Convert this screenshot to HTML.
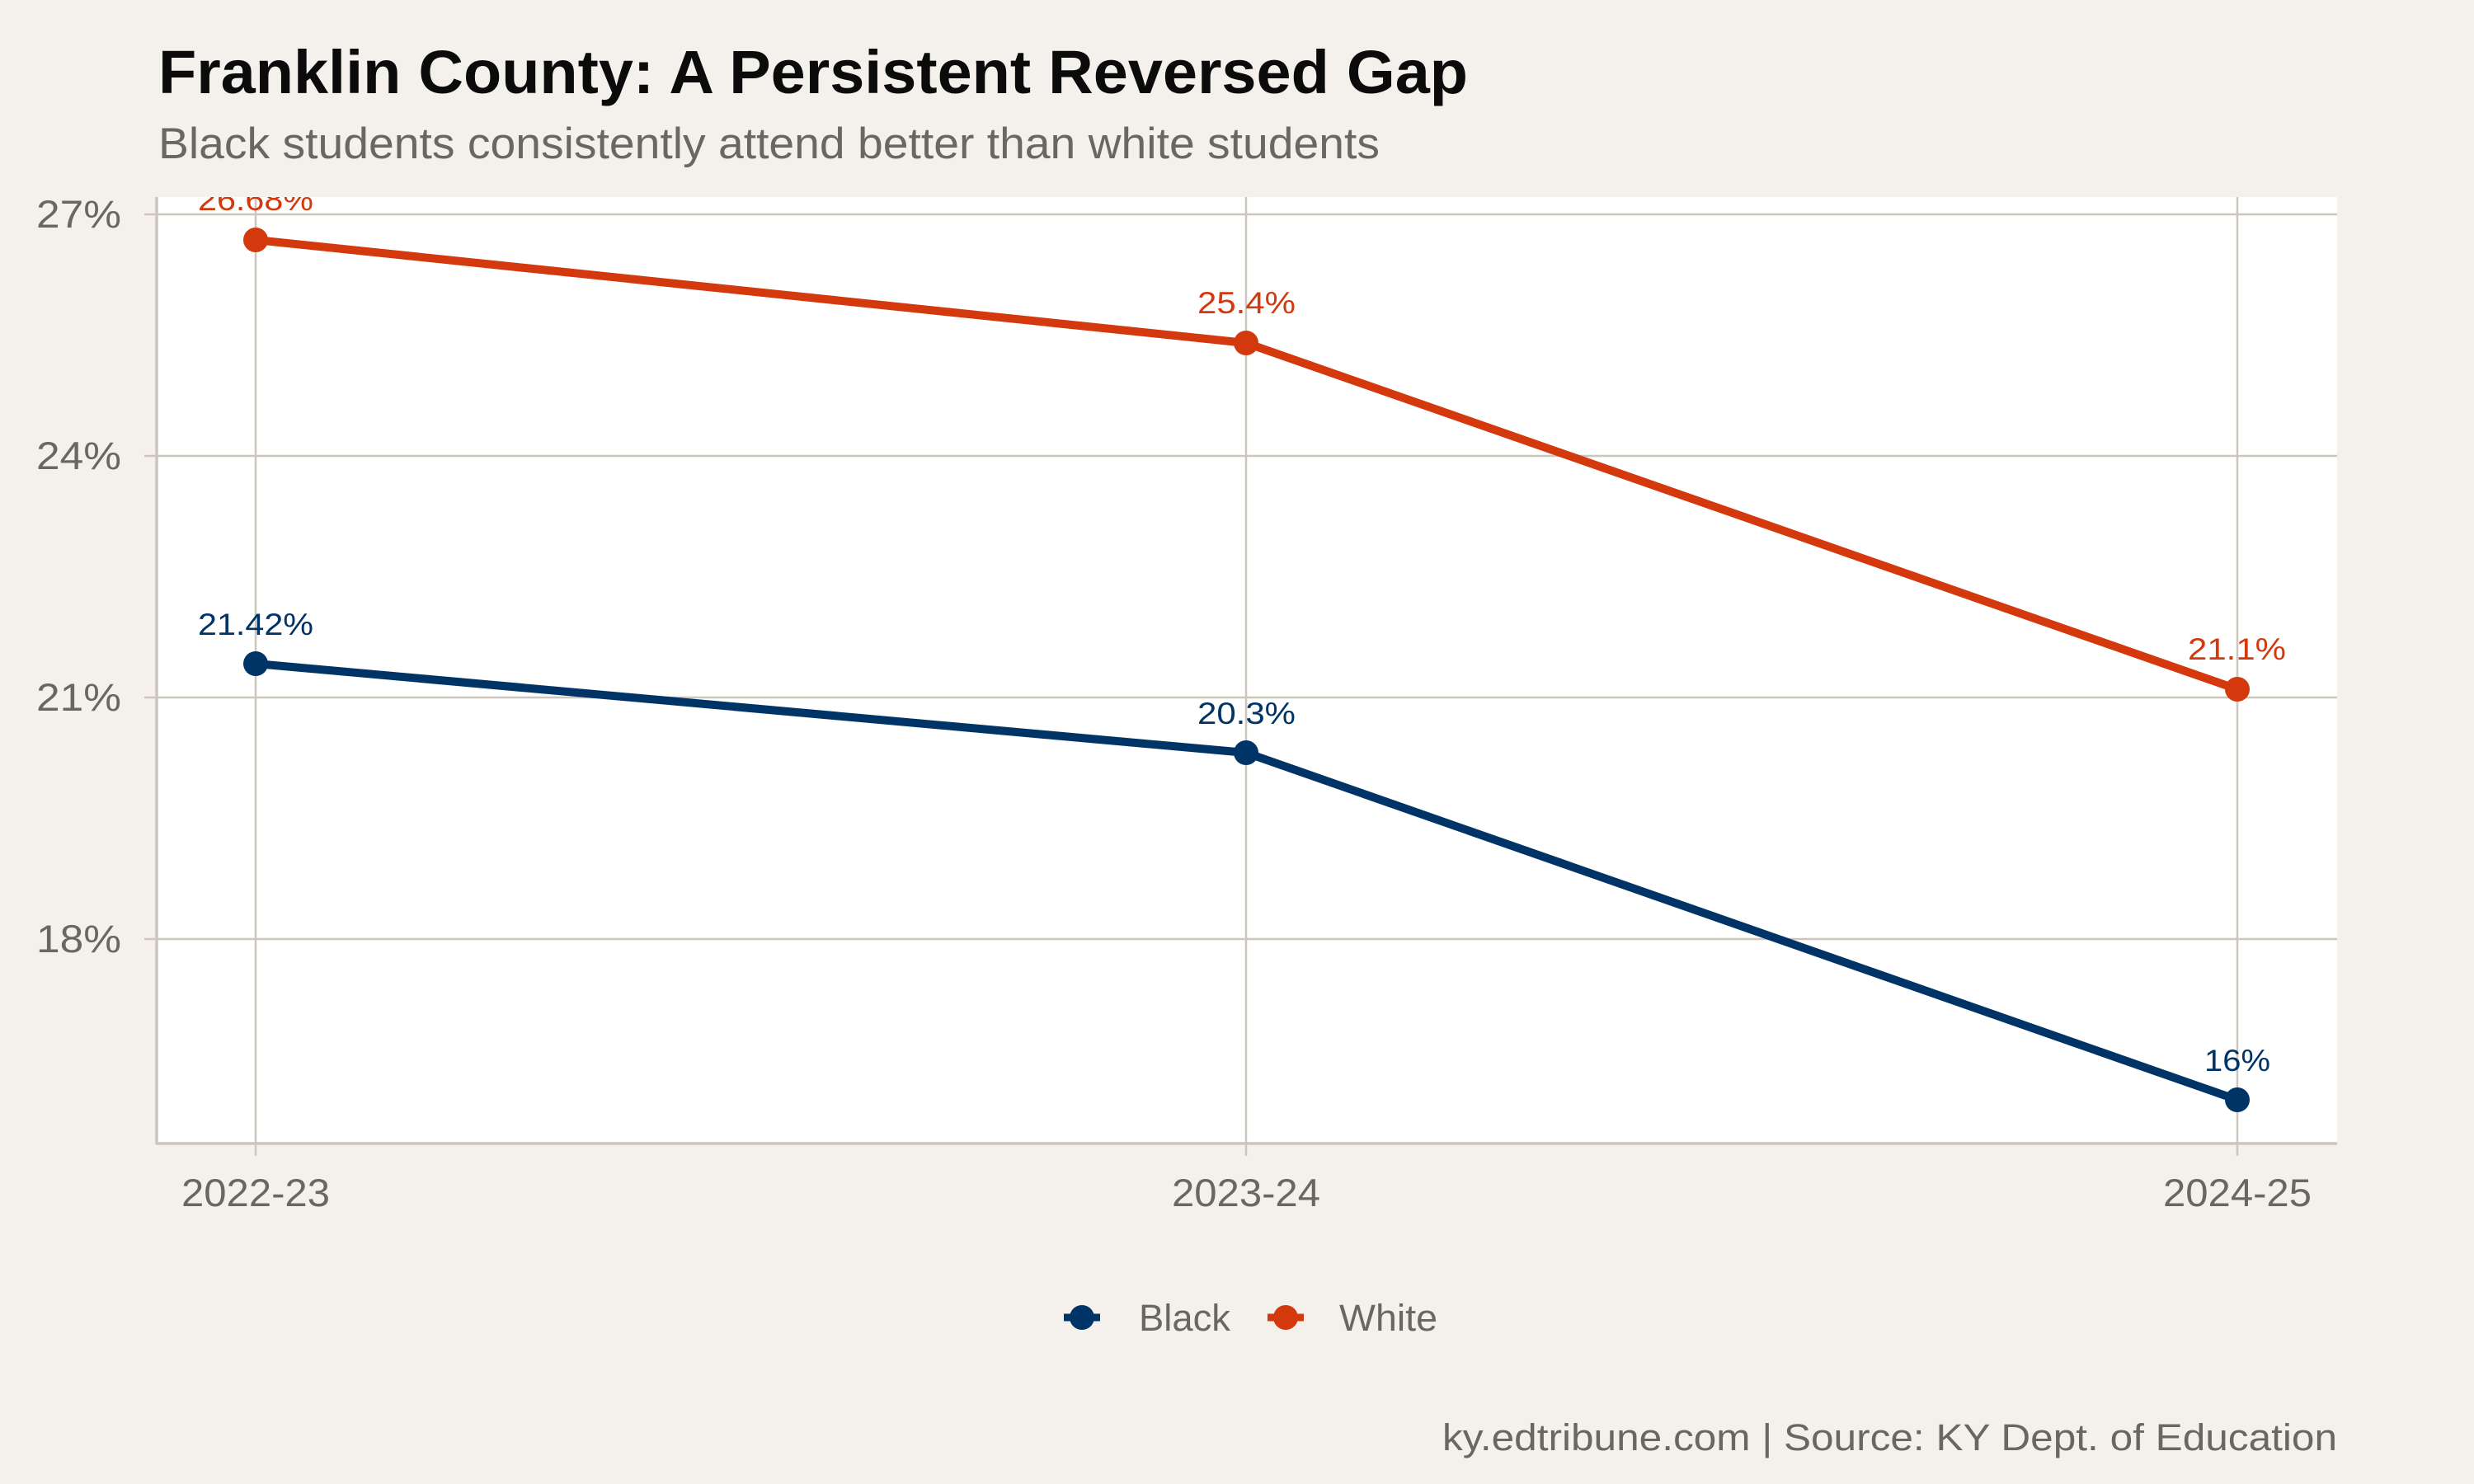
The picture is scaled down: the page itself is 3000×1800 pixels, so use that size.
<!DOCTYPE html>
<html><head><meta charset="utf-8"><style>
html,body{margin:0;padding:0;background:#F4F1EC;}
svg{display:block;font-family:"Liberation Sans",Arial,sans-serif;}
</style></head><body>
<svg width="3000" height="1800" viewBox="0 0 3000 1800" xmlns="http://www.w3.org/2000/svg">
<rect width="3000" height="1800" fill="#F4F1EC"/>
<text x="192" y="113" font-size="74" font-weight="bold" fill="#0b0b0b" textLength="1588" lengthAdjust="spacingAndGlyphs">Franklin County: A Persistent Reversed Gap</text>
<text x="192" y="192" font-size="53" fill="#6b6760" textLength="1481" lengthAdjust="spacingAndGlyphs">Black students consistently attend better than white students</text>
<rect x="190" y="239" width="2644" height="1148" fill="#ffffff"/>
<g stroke="#CCC6BC" stroke-width="2.5">
<line x1="190" x2="2834" y1="260" y2="260"/>
<line x1="190" x2="2834" y1="553" y2="553"/>
<line x1="190" x2="2834" y1="846" y2="846"/>
<line x1="190" x2="2834" y1="1139" y2="1139"/>
<line x1="310" x2="310" y1="239" y2="1402"/>
<line x1="1511" x2="1511" y1="239" y2="1402"/>
<line x1="2713" x2="2713" y1="239" y2="1402"/>
<line x1="175" x2="190" y1="260" y2="260"/>
<line x1="175" x2="190" y1="553" y2="553"/>
<line x1="175" x2="190" y1="846" y2="846"/>
<line x1="175" x2="190" y1="1139" y2="1139"/>
</g>
<g stroke="#CCC6BC" stroke-width="3.5"><line x1="190" x2="190" y1="239" y2="1388"/><line x1="189" x2="2834" y1="1387" y2="1387"/></g>
<g font-size="47" fill="#6b6760" text-anchor="end">
<text x="147" y="276" textLength="103" lengthAdjust="spacingAndGlyphs">27%</text><text x="147" y="569" textLength="103" lengthAdjust="spacingAndGlyphs">24%</text><text x="147" y="862" textLength="103" lengthAdjust="spacingAndGlyphs">21%</text><text x="147" y="1155" textLength="103" lengthAdjust="spacingAndGlyphs">18%</text>
</g>
<g font-size="47" fill="#6b6760">
<text x="220" y="1463" textLength="180" lengthAdjust="spacingAndGlyphs">2022-23</text><text x="1421" y="1463" textLength="180" lengthAdjust="spacingAndGlyphs">2023-24</text><text x="2623" y="1463" textLength="180" lengthAdjust="spacingAndGlyphs">2024-25</text>
</g>
<polyline points="310,291 1511,416 2713,836" fill="none" stroke="#D4380D" stroke-width="10" stroke-linejoin="round"/>
<polyline points="310,805 1511,913 2713,1334" fill="none" stroke="#003366" stroke-width="10" stroke-linejoin="round"/>
<g fill="#D4380D"><circle cx="310" cy="291" r="15"/><circle cx="1511" cy="416" r="15"/><circle cx="2713" cy="836" r="15"/></g>
<g fill="#003366"><circle cx="310" cy="805" r="15"/><circle cx="1511" cy="913" r="15"/><circle cx="2713" cy="1334" r="15"/></g>
<svg x="190" y="239" width="2644" height="1148" overflow="hidden">
<g font-size="37" fill="#D4380D">
<text x="50" y="16" textLength="140" lengthAdjust="spacingAndGlyphs">26.68%</text><text x="1262" y="141" textLength="119" lengthAdjust="spacingAndGlyphs">25.4%</text><text x="2463" y="561" textLength="119" lengthAdjust="spacingAndGlyphs">21.1%</text>
</g>
</svg>
<g font-size="37" fill="#003366">
<text x="240" y="770" textLength="140" lengthAdjust="spacingAndGlyphs">21.42%</text><text x="1452" y="878" textLength="119" lengthAdjust="spacingAndGlyphs">20.3%</text><text x="2673" y="1299" textLength="80" lengthAdjust="spacingAndGlyphs">16%</text>
</g>
<line x1="1290" x2="1334" y1="1598" y2="1598" stroke="#003366" stroke-width="9"/>
<circle cx="1312" cy="1598" r="15" fill="#003366"/>
<text x="1381" y="1614" font-size="45" fill="#6b6760" textLength="111" lengthAdjust="spacingAndGlyphs">Black</text>
<line x1="1537" x2="1581" y1="1598" y2="1598" stroke="#D4380D" stroke-width="9"/>
<circle cx="1559" cy="1598" r="15" fill="#D4380D"/>
<text x="1624" y="1614" font-size="45" fill="#6b6760" textLength="119" lengthAdjust="spacingAndGlyphs">White</text>
<text x="1749" y="1759" font-size="45" fill="#6b6760" textLength="1085" lengthAdjust="spacingAndGlyphs">ky.edtribune.com | Source: KY Dept. of Education</text>
</svg>
</body></html>
